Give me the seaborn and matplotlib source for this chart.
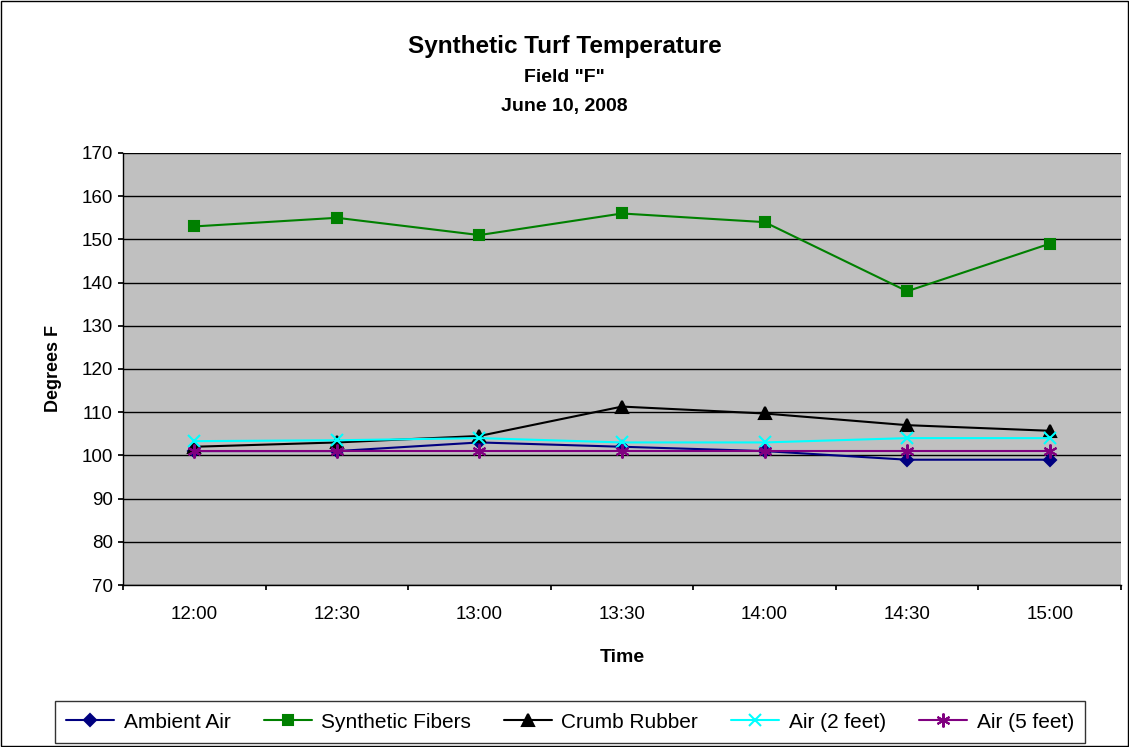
import matplotlib
matplotlib.use("Agg")
import matplotlib.pyplot as plt
import seaborn as sns
import pandas as pd
import numpy as np

times = ["12:00", "12:30", "13:00", "13:30", "14:00", "14:30", "15:00"]
ambient_air = [101, 101, 103, 102, 101, 99, 99]
synthetic_fibers = [153, 155, 151, 156, 154, 138, 149]
crumb_rubber = [102, 103, 104.5, 111.3, 109.7, 107, 105.7]
air_2ft = [103.3, 103.5, 104, 103, 103, 104, 104]
air_5ft = [101, 101, 101, 101, 101, 101, 101]

series = {
    "Ambient Air": ambient_air,
    "Synthetic Fibers": synthetic_fibers,
    "Crumb Rubber": crumb_rubber,
    "Air (2 feet)": air_2ft,
    "Air (5 feet)": air_5ft,
}
colors = {"Ambient Air": "#000080", "Synthetic Fibers": "#008000", "Crumb Rubber": "#000000",
          "Air (2 feet)": "#00FFFF", "Air (5 feet)": "#800080"}
markers = {"Ambient Air": "D", "Synthetic Fibers": "s", "Crumb Rubber": "^",
           "Air (2 feet)": "x", "Air (5 feet)": (6, 2, 0)}
msizes = {"Ambient Air": 6, "Synthetic Fibers": 7, "Crumb Rubber": 8, "Air (2 feet)": 9, "Air (5 feet)": 10}

rows = []
for name, vals in series.items():
    for i, v in enumerate(vals):
        rows.append({"idx": i, "Time": times[i], "Temp": v, "Series": name})
df = pd.DataFrame(rows)

sns.set_theme(style="white")
plt.rcParams['font.family'] = ['Liberation Sans', 'DejaVu Sans']
plt.rcParams['text.color'] = 'black'
plt.rcParams['axes.labelcolor'] = 'black'
plt.rcParams['xtick.color'] = 'black'
plt.rcParams['ytick.color'] = 'black'

fig = plt.figure(figsize=(11.29, 7.47), dpi=100)
ax = fig.add_axes([123/1129, 1-585/747, (1121-123)/1129, (585-153)/747])
ax.set_facecolor("#C0C0C0")

for name in series:
    sub = df[df["Series"] == name]
    sns.lineplot(data=sub, x="idx", y="Temp", ax=ax, color=colors[name], marker=markers[name],
                 markersize=msizes[name], markeredgecolor=colors[name], markerfacecolor=colors[name],
                 markeredgewidth=1.5, linewidth=1.5, label=name, legend=False)

ax.set_xlim(-0.5, 6.5)
ax.set_ylim(70, 170)
ax.set_yticks(np.arange(70, 171, 10))
ax.set_xticks(np.arange(-0.5, 7, 1))
ax.set_xticklabels([])
ax.set_xticks(np.arange(7), minor=True)
ax.set_xticklabels(times, minor=True)
ax.tick_params(axis='x', which='minor', length=0, labelsize=13.5, pad=15)
ax.tick_params(axis='x', which='major', length=3.6, direction='out', color='black', bottom=True)
ax.tick_params(axis='y', length=3.6, pad=3.6, direction='out', labelsize=13.5, color='black', left=True)
ax.grid(axis='y', color='black', linewidth=1)
ax.set_axisbelow(True)
for s in ["top", "right"]:
    ax.spines[s].set_visible(False)
for s in ["left", "bottom"]:
    ax.spines[s].set_color("black")
    ax.spines[s].set_linewidth(1)
ax.set_xlabel("Time", fontsize=14, fontweight='bold', labelpad=19)
ax.set_ylabel("Degrees F", fontsize=13, fontweight='bold', labelpad=14)

fig.text(0.5, 1-46/747, "Synthetic Turf Temperature", ha='center', va='center', fontsize=17.5, fontweight='bold')
fig.text(0.5, 1-78/747, 'Field "F"', ha='center', va='center', fontsize=14, fontweight='bold')
fig.text(0.5, 1-106/747, "June 10, 2008", ha='center', va='center', fontsize=14, fontweight='bold')

handles, labels = ax.get_legend_handles_labels()
leg = fig.legend(handles, labels, loc='center', bbox_to_anchor=(570/1129, 1-722/747), ncol=5,
                 frameon=True, fancybox=False, edgecolor='black', fontsize=15,
                 handlelength=2.3, handletextpad=0.45, columnspacing=1.6, borderpad=0.55,
                 borderaxespad=0)
leg.get_frame().set_linewidth(1)

fig.patches.append(plt.Rectangle((0.001, 0.001), 0.998, 0.998, transform=fig.transFigure,
                                 fill=False, edgecolor='black', linewidth=1))
fig.savefig("out.png", dpi=100, facecolor='white')
